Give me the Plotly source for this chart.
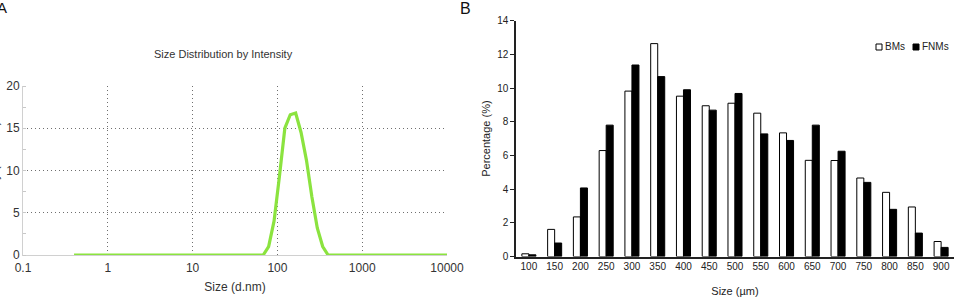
import plotly.graph_objects as go

# Panel A: DLS size distribution by intensity
dls_size_nm = [0.4, 68.06, 78.82, 91.28, 105.7, 122.4, 141.8, 164.2, 190.1, 220.2, 255.0, 295.3, 342.0, 396.1, 10000]
dls_intensity = [0, 0, 1.0, 4.0, 9.3, 15.0, 16.6, 16.8, 14.5, 11.2, 6.9, 3.2, 1.0, 0, 0]

# Panel B: size distribution histogram
size_bins = ["100", "150", "200", "250", "300", "350", "400", "450", "500",
             "550", "600", "650", "700", "750", "800", "850", "900"]
bms_pct = [0.16, 1.61, 2.35, 6.29, 9.82, 12.64, 9.52, 8.95, 9.1, 8.51, 7.34, 5.71, 5.7, 4.66, 3.81, 2.94, 0.89]
fnms_pct = [0.1, 0.8, 4.07, 7.8, 11.37, 10.68, 9.9, 8.69, 9.68, 7.28, 6.89, 7.8, 6.25, 4.4, 2.8, 1.39, 0.54]
series_names = ["BMs", "FNMs"]

W, H = 954, 304
FONT = "Liberation Sans, Arial, sans-serif"

fig = go.Figure()

fig.add_trace(go.Scatter(
    x=dls_size_nm, y=dls_intensity, mode="lines",
    line=dict(color="#8be33f", width=3.2), showlegend=False,
    xaxis="x", yaxis="y"))

fig.add_trace(go.Bar(
    x=size_bins, y=bms_pct, name=series_names[0], showlegend=False,
    marker=dict(color="white", line=dict(color="black", width=1)),
    xaxis="x2", yaxis="y2"))
fig.add_trace(go.Bar(
    x=size_bins, y=fnms_pct, name=series_names[1], showlegend=False,
    marker=dict(color="black", line=dict(color="black", width=1)),
    xaxis="x2", yaxis="y2"))

grid_col = "#6f6f6f"
dots = "1px,3px"
fig.update_layout(
    width=W, height=H,
    margin=dict(l=0, r=0, t=0, b=0),
    paper_bgcolor="white", plot_bgcolor="white",
    font=dict(family=FONT, color="#333333"),
    barmode="group", bargap=0.455, bargroupgap=0,
    xaxis=dict(
        domain=[23 / W, 447 / W], type="log", range=[-1, 4],
        tickvals=[0.1, 1, 10, 100, 1000, 10000],
        ticktext=["0.1", "1", "10", "100", "1000", "10000"],
        showgrid=True, gridcolor=grid_col, griddash=dots, gridwidth=1,
        showline=True, linecolor="#d0d0d0", linewidth=1,
        ticks="", tickfont=dict(size=12, color="#333333"), automargin=False,
        ticklabelstandoff=2,
        zeroline=False, anchor="y",
        title=dict(text="Size (d.nm)", font=dict(size=12, color="#333333"), standoff=8),
    ),
    yaxis=dict(
        domain=[49 / H, 218 / H], range=[0, 20],
        tickvals=[0, 5, 10, 15, 20],
        showgrid=True, gridcolor=grid_col, griddash=dots, gridwidth=1,
        showline=True, linecolor="#d0d0d0", linewidth=1,
        ticks="", tickfont=dict(size=12, color="#333333"), automargin=False,
        minor=dict(ticks="inside", ticklen=3, dtick=2.5, tickcolor="#c8c8c8", showgrid=False),
        zeroline=False, anchor="x",
    ),
    xaxis2=dict(
        domain=[516 / W, 1.0], range=[-0.5, 16.5], type="category",
        showline=True, linecolor="#222222", linewidth=1.5,
        ticks="", tickfont=dict(size=10, color="#222222"), automargin=False,
        showgrid=False, zeroline=False, anchor="y2",
        title=dict(text="Size (µm)", font=dict(size=11, color="#222222"), standoff=16),
    ),
    yaxis2=dict(
        domain=[47.5 / H, 283.3 / H], range=[0, 14], dtick=2,
        showline=True, linecolor="#222222", linewidth=1.5,
        ticks="outside", ticklen=4, tickcolor="#222222",
        tickfont=dict(size=10, color="#222222"), automargin=False,
        showgrid=False, zeroline=False, anchor="x2",
        title=dict(text="Percentage (%)", font=dict(size=11, color="#222222"), standoff=4),
    ),
    shapes=[
        dict(type="rect", xref="paper", yref="paper",
             x0=876 / W, x1=882 / W, y0=1 - 50 / H, y1=1 - 44 / H,
             line=dict(color="black", width=1), fillcolor="white"),
        dict(type="rect", xref="paper", yref="paper",
             x0=913 / W, x1=919 / W, y0=1 - 50 / H, y1=1 - 44 / H,
             line=dict(color="black", width=1), fillcolor="black"),
    ],
    annotations=[
        dict(text=series_names[0], x=883 / W, y=1 - 47 / H, xanchor="left", yanchor="middle",
             xref="paper", yref="paper", showarrow=False,
             font=dict(size=10, color="#222222")),
        dict(text=series_names[1], x=920 / W, y=1 - 47 / H, xanchor="left", yanchor="middle",
             xref="paper", yref="paper", showarrow=False,
             font=dict(size=10, color="#222222")),
        dict(text="Size Distribution by Intensity", x=223 / W, y=1 - 54 / H,
             xanchor="center", yanchor="middle",
             xref="paper", yref="paper", showarrow=False,
             font=dict(size=11, color="#333333")),
        dict(text="Intensity (Percent)", x=-6.5 / W, y=1 - 170 / H, textangle=-90,
             xanchor="center", yanchor="middle",
             xref="paper", yref="paper", showarrow=False,
             font=dict(size=12, color="#333333")),
        dict(text="A", x=-5 / W, y=1 - 8 / H, xanchor="left", yanchor="middle",
             xref="paper", yref="paper", showarrow=False,
             font=dict(size=15, color="#111111")),
        dict(text="B", x=458 / W, y=1 - 9 / H, xanchor="left", yanchor="middle",
             xref="paper", yref="paper", showarrow=False,
             font=dict(size=16, color="#111111")),
    ],
)

fig.write_html("out.html")
